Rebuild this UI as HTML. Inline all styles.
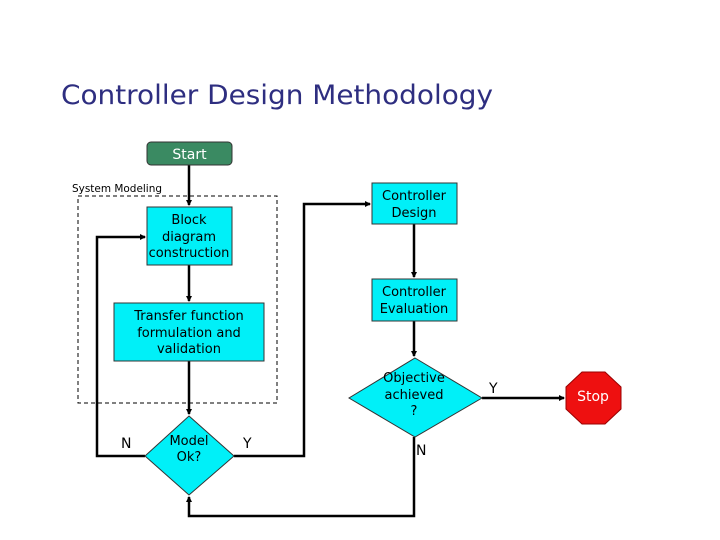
<!DOCTYPE html>
<html><head><style>
html,body{margin:0;padding:0;background:#fff;}
svg{display:block;}
text{font-family:"DejaVu Sans","Liberation Sans",sans-serif;}
</style></head><body>
<svg width="720" height="540" viewBox="0 0 720 540" xmlns="http://www.w3.org/2000/svg">
<defs>
<marker id="a" markerWidth="6" markerHeight="6" refX="5" refY="3" orient="auto" markerUnits="userSpaceOnUse">
<path d="M0,0 L6,3 L0,6 z" fill="#000"/>
</marker>
</defs>
<text x="61" y="104" font-size="27" fill="#2e2e80" textLength="432" lengthAdjust="spacingAndGlyphs">Controller Design Methodology</text>

<!-- dashed box -->
<rect x="78" y="196" width="199" height="207" fill="none" stroke="#000" stroke-width="1" stroke-dasharray="4,3"/>
<text x="72" y="192" font-size="11" fill="#000" textLength="90" lengthAdjust="spacingAndGlyphs">System Modeling</text>

<!-- connectors -->
<g stroke="#000" stroke-width="2.5" fill="none">
<line x1="189" y1="165" x2="189" y2="205" marker-end="url(#a)"/>
<line x1="189" y1="265" x2="189" y2="301" marker-end="url(#a)"/>
<line x1="189" y1="361" x2="189" y2="414" marker-end="url(#a)"/>
<polyline points="145,456 97,456 97,237 145,237" marker-end="url(#a)"/>
<polyline points="234,456 304,456 304,204 370,204" marker-end="url(#a)"/>
<line x1="414" y1="224" x2="414" y2="277" marker-end="url(#a)"/>
<line x1="414" y1="321" x2="414" y2="356" marker-end="url(#a)"/>
<line x1="482" y1="398" x2="564" y2="398" marker-end="url(#a)"/>
<polyline points="414,437 414,516 189,516 189,497" marker-end="url(#a)"/>
</g>

<!-- Start -->
<rect x="147" y="142" width="85" height="23" rx="4" fill="#3a8a62" stroke="#333" stroke-width="1"/>
<text x="189.5" y="159" font-size="14" fill="#fff" text-anchor="middle">Start</text>

<g fill="#00f0f8" stroke="#333" stroke-width="1">
<rect x="147" y="207" width="85" height="58"/>
<rect x="114" y="303" width="150" height="58"/>
<rect x="372" y="183" width="85" height="41"/>
<rect x="372" y="279" width="85" height="42"/>
<polygon points="189,416 234,456 189,495 145,456"/>
<polygon points="415,358 482,398 415,437 349,398"/>
</g>
<polygon points="582,372 605,372 621,387 621,409 605,424 582,424 566,409 566,387" fill="#ee1010" stroke="#900" stroke-width="1"/>

<g font-size="13" fill="#000" text-anchor="middle">
<text x="189" y="224">Block</text>
<text x="189" y="241">diagram</text>
<text x="189" y="257">construction</text>
<text x="189" y="320">Transfer function</text>
<text x="189" y="337">formulation and</text>
<text x="189" y="353">validation</text>
<text x="414" y="200">Controller</text>
<text x="414" y="217">Design</text>
<text x="414" y="296">Controller</text>
<text x="414" y="313">Evaluation</text>
<text x="414" y="382">Objective</text>
<text x="414" y="399">achieved</text>
<text x="414" y="415">?</text>
<text x="189" y="445">Model</text>
<text x="189" y="461">Ok?</text>
</g>
<text x="593" y="401" font-size="14" fill="#fff" text-anchor="middle">Stop</text>
<g font-size="14" fill="#000">
<text x="121" y="448">N</text>
<text x="243" y="448">Y</text>
<text x="416" y="455">N</text>
<text x="489" y="393">Y</text>
</g>
</svg>
</body></html>
